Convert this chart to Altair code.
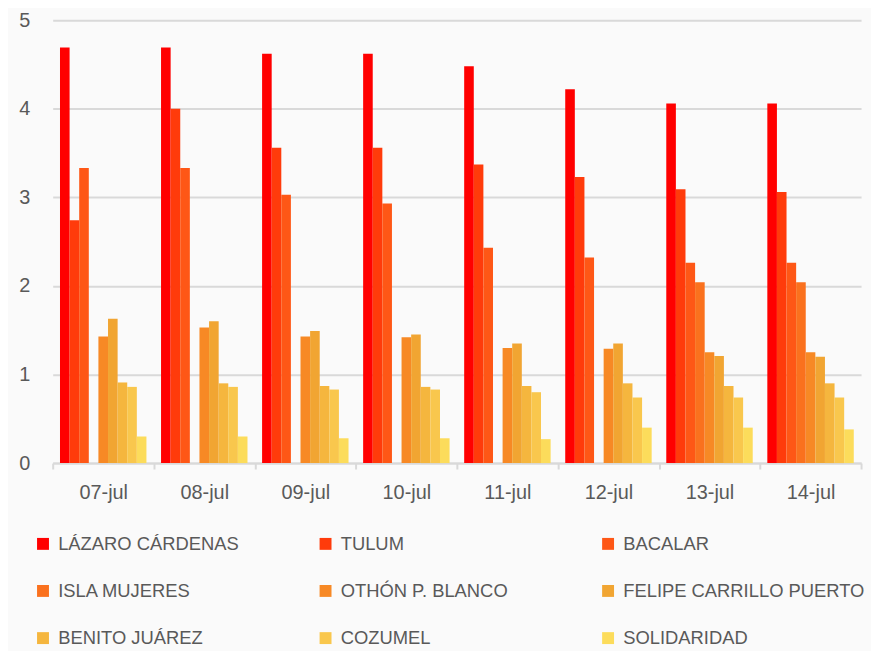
import altair as alt
import pandas as pd

dates = ["07-jul", "08-jul", "09-jul", "10-jul", "11-jul", "12-jul", "13-jul", "14-jul"]
series = ["LÁZARO CÁRDENAS", "TULUM", "BACALAR", "ISLA MUJERES", "OTHÓN P. BLANCO",
          "FELIPE CARRILLO PUERTO", "BENITO JUÁREZ", "COZUMEL", "SOLIDARIDAD"]
colors = ["#FF0000", "#FF3B0B", "#FE5716", "#FA711E", "#F78925",
          "#F1A532", "#F5B63E", "#F9C74D", "#FCDC5B"]

lazaro = [4.69, 4.69, 4.62, 4.62, 4.48, 4.22, 4.06, 4.06]
tulum = [2.74, 4.00, 3.56, 3.56, 3.37, 3.23, 3.09, 3.06]
bacalar = [3.33, 3.33, 3.03, 2.93, 2.43, 2.32, 2.26, 2.26]
isla = [None, None, None, None, None, None, 2.04, 2.04]
othon = [1.43, 1.53, 1.43, 1.42, 1.30, 1.29, 1.25, 1.25]
felipe = [1.63, 1.60, 1.49, 1.45, 1.35, 1.35, 1.21, 1.20]
benito = [0.91, 0.90, 0.87, 0.86, 0.87, 0.90, 0.87, 0.90]
cozumel = [0.86, 0.86, 0.83, 0.83, 0.80, 0.74, 0.74, 0.74]
solidaridad = [0.30, 0.30, 0.28, 0.28, 0.27, 0.40, 0.40, 0.38]

values = [lazaro, tulum, bacalar, isla, othon, felipe, benito, cozumel, solidaridad]

rows = []
for s, vals in zip(series, values):
    for d, v in zip(dates, vals):
        if v is not None:
            rows.append({"fecha": d, "municipio": s, "valor": v})
df = pd.DataFrame(rows)

FONT = "Liberation Sans"
TXT = "#595959"
GRID = "#D9D9D9"

chart = alt.Chart(df).mark_bar().encode(
    x=alt.X("fecha:N", sort=dates, title=None,
            scale=alt.Scale(paddingInner=0, paddingOuter=0),
            axis=alt.Axis(labelAngle=0, tickBand="extent", domainColor=GRID, domainWidth=2,
                          tickColor=GRID, tickWidth=2, tickSize=6, labelPadding=14,
                          labelFontSize=20, labelColor=TXT, labelFont=FONT, grid=False)),
    xOffset=alt.XOffset("municipio:N", sort=series,
                        scale=alt.Scale(domain=series, paddingInner=0, paddingOuter=0.76)),
    y=alt.Y("valor:Q", title=None,
            scale=alt.Scale(domain=[0, 5], nice=False),
            axis=alt.Axis(values=[0, 1, 2, 3, 4, 5], domain=False, ticks=False,
                          gridColor=GRID, gridWidth=2, labelPadding=23,
                          labelFontSize=20, labelColor=TXT, labelFont=FONT)),
    color=alt.Color("municipio:N", sort=series,
                    scale=alt.Scale(domain=series, range=colors),
                    legend=alt.Legend(title=None, orient="none", legendX=-19, legendY=518,
                                      direction="horizontal",
                                      columns=3, gridAlign="all", columnPadding=16.5,
                                      rowPadding=28.5, symbolType="square", symbolSize=144,
                                      symbolStrokeWidth=0, labelOffset=6, labelFontSize=18.5,
                                      labelFont=FONT, labelColor=TXT, labelLimit=400,
                                      padding=0)),
).properties(
    width=814, height=446,
    autosize=alt.AutoSizeParams(type="none"),
    padding={"left": 45, "top": 10, "right": 10, "bottom": 187},
    background="#FAFAFA",
).configure_view(stroke=None)

chart.save("out.html", embed_options={"renderer": "svg", "actions": False})
